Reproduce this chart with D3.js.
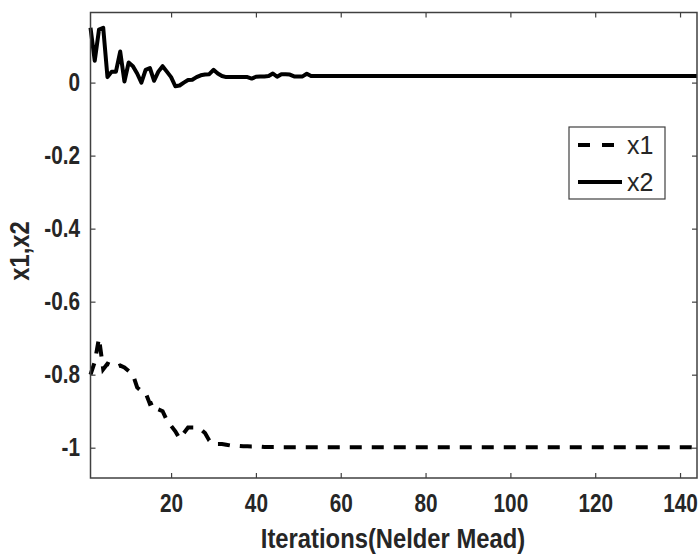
<!DOCTYPE html>
<html>
<head>
<meta charset="utf-8">
<script src="https://cdn.jsdelivr.net/npm/d3@7"></script>
<style>
html,body{margin:0;padding:0;background:#fff;}
svg{display:block;}
</style>
</head>
<body>
<svg id="chart" width="698" height="555"></svg>
<script>
// ---- data ----
const x1Values = [
  -0.80, -0.765, -0.70, -0.785, -0.77, -0.775, -0.78, -0.775, -0.78, -0.79,
  -0.80, -0.835, -0.845, -0.85, -0.88, -0.875, -0.895, -0.90, -0.925, -0.94,
  -0.955, -0.975, -0.96, -0.945, -0.945, -0.945, -0.95, -0.96, -0.98, -0.99,
  -0.99, -0.99, -0.992, -0.994, -0.995, -0.995, -0.996, -0.996, -0.997, -0.997,
  -0.997, -0.998, -0.998, -0.998, -0.998, -0.999, -0.999, -0.999, -0.999, -0.999
];
const x2Values = [
  0.15, 0.06, 0.145, 0.15, 0.015, 0.03, 0.03, 0.085, 0.003, 0.055,
  0.045, 0.025, 0.0, 0.035, 0.04, 0.005, 0.03, 0.045, 0.03, 0.015,
  -0.01, -0.008, 0.0, 0.007, 0.008, 0.015, 0.02, 0.022, 0.023, 0.035,
  0.025, 0.018, 0.015, 0.015, 0.015, 0.015, 0.015, 0.015, 0.011, 0.016,
  0.017, 0.017, 0.018, 0.025, 0.016, 0.023, 0.023, 0.022, 0.017, 0.017,
  0.017, 0.024, 0.018
];
const nIter = 144;
const x1Final = -0.999;
const x2Final = 0.018;
const xTicks = [20, 40, 60, 80, 100, 120, 140];
const yTicks = [0, -0.2, -0.4, -0.6, -0.8, -1];
const seriesNames = ["x1", "x2"];
const xLabel = "Iterations(Nelder Mead)";
const yLabel = "x1,x2";

function fullSeries(vals, fin) {
  const out = [];
  for (let i = 1; i <= nIter; i++) {
    out.push({i: i, v: i <= vals.length ? vals[i - 1] : fin});
  }
  return out;
}
const x1 = fullSeries(x1Values, x1Final);
const x2 = fullSeries(x2Values, x2Final);

// ---- layout ----
const svg = d3.select("#chart");
const L = 90.5, R = 697, T = 12.5, B = 478;
const x = d3.scaleLinear().domain([1, 144]).range([L, R]);
const y = d3.scaleLinear().domain([-1.083, 0.192]).range([B, T]);

const fontB = "'Liberation Sans',Arial,sans-serif";
const axisColor = "#404040";
const textColor = "#262626";

const line = d3.line().x(d => x(d.i)).y(d => y(d.v));

const g = svg.append("g");

// lines
g.append("path").datum(x1).attr("d", line)
  .attr("fill", "none").attr("stroke", "#000").attr("stroke-width", 4)
  .attr("stroke-dasharray", "12,10");
g.append("path").datum(x2).attr("d", line)
  .attr("fill", "none").attr("stroke", "#000").attr("stroke-width", 4)
  .attr("stroke-linejoin", "round");

// axes
const tickLen = 5;
const xAxisB = d3.axisBottom(x).tickValues(xTicks).tickSizeInner(-tickLen).tickSizeOuter(0).tickPadding(16.5);
const xAxisT = d3.axisTop(x).tickValues(xTicks).tickSizeInner(-tickLen).tickSizeOuter(0).tickFormat("");
const fmt = d => d === 0 ? "0" : (+d.toFixed(1)).toString();
const yAxisL = d3.axisLeft(y).tickValues(yTicks).tickSizeInner(-tickLen).tickSizeOuter(0).tickPadding(12).tickFormat(fmt);
const yAxisR = d3.axisRight(y).tickValues(yTicks).tickSizeInner(-tickLen).tickSizeOuter(0).tickFormat("");

function styleAxis(sel) {
  sel.select(".domain").remove();
  sel.selectAll(".tick line").attr("stroke", axisColor).attr("stroke-width", 1.2);
  sel.selectAll(".tick text").attr("fill", textColor)
    .style("font-family", fontB).style("font-weight", "bold").style("font-size", "25px");
}
const sx = 0.83;
const gxb = g.append("g").attr("transform", `translate(0,${B})`).call(xAxisB).call(styleAxis);
gxb.selectAll(".tick text").attr("transform", `scale(${sx},1)`);
g.append("g").attr("transform", `translate(0,${T})`).call(xAxisT).call(styleAxis);
const gyl = g.append("g").attr("transform", `translate(${L},0)`).call(yAxisL).call(styleAxis);
gyl.selectAll(".tick text").attr("x", -10.5 / sx).attr("transform", `scale(${sx},1)`);
g.append("g").attr("transform", `translate(${R},0)`).call(yAxisR).call(styleAxis);

// frame
g.append("rect").attr("x", L).attr("y", T).attr("width", R - L).attr("height", B - T)
  .attr("fill", "none").attr("stroke", axisColor).attr("stroke-width", 1.5);

// axis labels
svg.append("text").attr("transform", `translate(${393},548) scale(0.85,1)`)
  .attr("text-anchor", "middle").attr("fill", textColor)
  .style("font-family", fontB).style("font-weight", "bold").style("font-size", "28px")
  .text(xLabel);
svg.append("text").attr("transform", `translate(29,251) rotate(-90) scale(0.88,1)`)
  .attr("text-anchor", "middle").attr("fill", textColor)
  .style("font-family", fontB).style("font-weight", "bold").style("font-size", "27px")
  .text(yLabel);

// legend
const lg = svg.append("g");
lg.append("rect").attr("x", 569).attr("y", 127).attr("width", 96).attr("height", 72)
  .attr("fill", "#fff").attr("stroke", axisColor).attr("stroke-width", 1.2);
const legY = [145, 182];
seriesNames.forEach((name, k) => {
  lg.append("line").attr("x1", 578).attr("x2", 622).attr("y1", legY[k]).attr("y2", legY[k])
    .attr("stroke", "#000").attr("stroke-width", 4)
    .attr("stroke-dasharray", k === 0 ? "12,12" : null);
  lg.append("text").attr("x", 627).attr("y", legY[k]).attr("dy", "0.36em")
    .attr("fill", textColor)
    .style("font-family", "'Liberation Sans',Arial,sans-serif").style("font-size", "25px")
    .text(name);
});
</script>
</body>
</html>
